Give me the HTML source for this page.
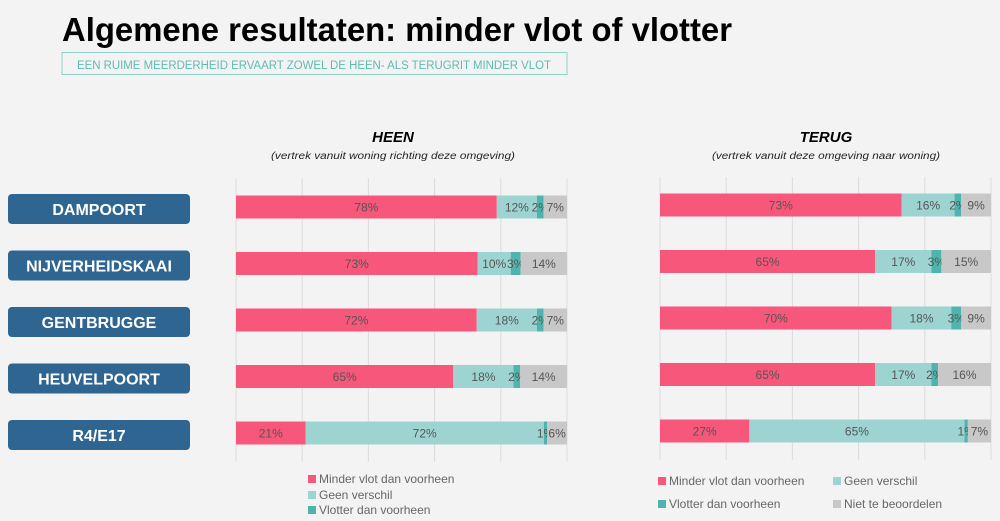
<!DOCTYPE html>
<html><head><meta charset="utf-8"><style>
body{margin:0;background:#f3f3f3;}
svg{display:block;font-family:"Liberation Sans",sans-serif;}
</style></head><body>
<svg id="svg" width="1000" height="521" viewBox="0 0 1000 521">
<rect width="1000" height="521" fill="#f3f3f3"/>
<text x="62" y="41" font-size="33" font-weight="bold" fill="#000" textLength="670" lengthAdjust="spacingAndGlyphs">Algemene resultaten: minder vlot of vlotter</text>
<rect x="62" y="52.5" width="505" height="22" fill="none" stroke="#8fd0c8" stroke-width="1"/>
<text x="314" y="69" font-size="11.5" fill="#5bbdb0" text-anchor="middle" textLength="474" lengthAdjust="spacingAndGlyphs">EEN RUIME MEERDERHEID ERVAART ZOWEL DE HEEN- ALS TERUGRIT MINDER VLOT</text>
<text x="393" y="142" font-size="15" font-weight="bold" font-style="italic" text-anchor="middle">HEEN</text>
<text x="393" y="159" font-size="10" font-style="italic" text-anchor="middle" fill="#222" textLength="244" lengthAdjust="spacingAndGlyphs">(vertrek vanuit woning richting deze omgeving)</text>
<text x="826" y="142" font-size="15" font-weight="bold" font-style="italic" text-anchor="middle">TERUG</text>
<text x="826" y="159" font-size="10" font-style="italic" text-anchor="middle" fill="#222" textLength="228" lengthAdjust="spacingAndGlyphs">(vertrek vanuit deze omgeving naar woning)</text>
<g id="labels"></g>
<g id="left"></g>
<g id="right"></g>
<g id="legends"></g>
</svg>
<script>
const categories=["DAMPOORT","NIJVERHEIDSKAAI","GENTBRUGGE","HEUVELPOORT","R4/E17"];
const seriesNames=["Minder vlot dan voorheen","Geen verschil","Vlotter dan voorheen","Niet te beoordelen"];
const heenMinder=[78,73,72,65,21];
const heenGeen=[12,10,18,18,72];
const heenVlotter=[2,3,2,2,1];
const heenNiet=[7,14,7,14,6];
const terugMinder=[73,65,70,65,27];
const terugGeen=[16,17,18,17,65];
const terugVlotter=[2,3,3,2,1];
const terugNiet=[9,15,9,16,7];
const colors=["#f7577a","#9dd4d2","#4fb5ac","#c8c8c8"];
const NS="http://www.w3.org/2000/svg";
function mk(tag,attrs,parent){const e=document.createElementNS(NS,tag);for(const k in attrs)e.setAttribute(k,attrs[k]);parent.appendChild(e);return e;}
const lg=document.getElementById('labels');
categories.forEach((c,i)=>{
  const y=194+i*56.5;
  const r=mk('rect',{x:8,y:y,width:182,height:30,rx:4,fill:'#2f6591'},lg);
  
  
  const t=mk('text',{x:99,y:y+21,'font-size':16,'font-weight':'bold',fill:'#fff','text-anchor':'middle'},lg);
  t.textContent=c;
  
  
});
function chart(g,x0,x1,gy0,gy1,barTop,series,prefix){
  const sx=v=>x0+(x1-x0)*v/100;
  for(let k=0;k<=5;k++){
    const l=mk('line',{x1:sx(k*20),x2:sx(k*20),y1:gy0,y2:gy1,stroke:'#dcdcdc','stroke-width':1},g);
    
    
  }
  categories.forEach((c,i)=>{
    const vals=series.map(s=>s[i]);
    const tot=vals.reduce((a,b)=>a+b,0);
    let acc=0;
    const y=barTop+i*56.5;
    vals.forEach((v,j)=>{
      const a=sx(acc/tot*100),b=sx((acc+v)/tot*100);
      const r=mk('rect',{x:a,y:y,width:b-a,height:23,fill:colors[j]},g);
      
      
      const t=mk('text',{x:(a+b)/2,y:y+16,'font-size':12,fill:'#555','text-anchor':'middle'},g);
      t.textContent=v+'%';
      
      
      acc+=v;
    });
  });
}
chart(document.getElementById('left'),236,567,178,462,195.5,[heenMinder,heenGeen,heenVlotter,heenNiet],'heen');
chart(document.getElementById('right'),660,991,177,460,193.5,[terugMinder,terugGeen,terugVlotter,terugNiet],'terug');
const L=document.getElementById('legends');
function leg(x,y,j,p){
  const r=mk('rect',{x:x,y:y-8,width:8,height:8,fill:colors[j]},L);
  
  
  const t=mk('text',{x:x+11,y:y,'font-size':12,fill:'#666'},L);
  t.textContent=seriesNames[j];
  
  
}
leg(308,483,0,'heen');leg(308,499,1,'heen');leg(308,514,2,'heen');
leg(658,485,0,'terug');leg(833,485,1,'terug');leg(658,508,2,'terug');leg(833,508,3,'terug');
</script>
</body></html>
